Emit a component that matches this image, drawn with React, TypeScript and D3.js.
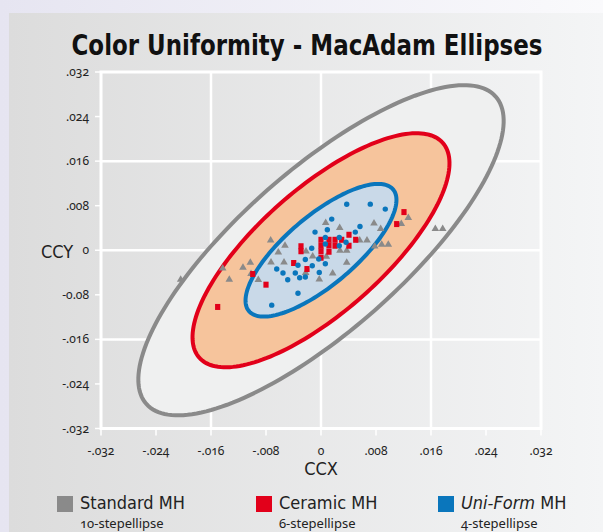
import React from 'react'
import { scaleLinear, line, curveLinearClosed, range } from 'd3'

// axis ticks
const xTicks = [-0.032, -0.024, -0.016, -0.008, 0, 0.008, 0.016, 0.024, 0.032]
const xTickLabels = ['-.032', '-.024', '-.016', '-.008', '0', '.008', '.016', '.024', '.032']
const yTicks = [0.032, 0.024, 0.016, 0.008, 0, -0.008, -0.016, -0.024, -0.032]
const yTickLabels = ['.032', '.024', '.016', '.008', '0', '-0.08', '-.016', '-.024', '-.032']
const gridTicks = [-0.016, 0, 0.016]

// ellipses: centre plus two conjugate semi-diameters, in ccx/ccy units
const ellipseNames = ['Standard MH', 'Ceramic MH', 'Uni-Form MH']
const ellipseMajor = [[0.0254, 0.0276], [0.0177, 0.0193], [0.0105, 0.0109]]
const ellipseMinor = [[0.0078, -0.0108], [0.0060, -0.0083], [0.0032, -0.0048]]

// measured points
const standardX = [0.00068, 0.00272, 0.00771, 0.00868, 0.01168, 0.0127, 0.01663, 0.0177, -0.00732, -0.00621, -0.00524, -0.00218, -0.00121, 0.00077, 0.00276, 0.00374, 0.00563, 0.00669, 0.00781, 0.00883, 0.00979, 0.00374, -0.00727, -0.00538, -0.0143, -0.01135, -0.01028, -0.01334, -0.01018, -0.00912, -0.00223, -0.00025, 0.0017, -0.02041]
const standardY = [0.00506, 0.00416, 0.00498, 0.00398, 0.00488, 0.00595, 0.00398, 0.00398, 0.00194, -0.00022, 0.00099, -0.00004, -0.00093, -0.00099, 0.00009, 0.00009, 0.00194, 0.00194, 0.00086, 0.00117, 0.00117, -0.00206, -0.00201, -0.00201, -0.00308, -0.00296, -0.00206, -0.00511, -0.00409, -0.00516, -0.00391, -0.00506, -0.00398, -0.00511]
const ceramicX = [0.01207, 0.01101, 0, 0, 0, 0.00116, 0.00116, 0.00116, 0.00204, 0.00204, 0.00301, 0.00407, 0.00407, 0.00505, -0.00291, -0.00291, 0, -0.00397, -0.00204, -0.00993, -0.008, -0.01503]
const ceramicY = [0.00685, 0.0047, 0.00188, 0.00081, -0.00018, 0.00188, 0.00086, -0.00027, 0.00188, 0.00081, 0.00188, 0.00278, 0.00081, 0.00188, 0.00072, -0.00018, -0.00134, -0.00229, -0.00337, -0.00427, -0.00618, -0.01018]
const uniformX = [0.00374, 0.00717, 0.00935, 0.00156, 0.00092, -0.00087, 0.00567, 0.00499, 0.00266, 0.00063, 0.00364, 0.00063, 0.00266, -0.00135, -0.00033, -0.00228, 0.00063, -0.00127, -0.00335, -0.00644, -0.00553, -0.00374, -0.00025, -0.0031, -0.00228, -0.00484, -0.00335, -0.00717]
const uniformY = [0.00825, 0.00828, 0.00739, 0.00559, 0.00368, 0.00326, 0.00427, 0.00326, 0.00229, 0.00229, 0.00143, 0.00111, 0.00081, 0.00036, -0.00158, -0.00165, -0.00242, -0.00278, -0.00269, -0.00337, -0.00409, -0.00409, -0.00398, -0.00493, -0.0048, -0.00529, -0.00771, -0.00986]

function App() {
    const width = 603,
        height = 532

    const x = scaleLinear().domain([-0.032, 0.032]).range([101, 541])
    const y = scaleLinear().domain([-0.032, 0.032]).range([428.5, 72])

    const grey = '#8a8a8a', red = '#e2001a', blue = '#0a76bc'
    const fills = ['#eff0f0', '#f6c49c', '#c9d9e8']
    const strokes = [grey, red, blue]

    const ellipsePath = (i: number) => {
        const [ax, ay] = ellipseMajor[i]
        const [bx, by] = ellipseMinor[i]
        const pts = range(0, 2 * Math.PI, Math.PI / 90).map(t =>
            [ax * Math.cos(t) + bx * Math.sin(t), ay * Math.cos(t) + by * Math.sin(t)] as [number, number])
        return line<[number, number]>().x(d => x(d[0])).y(d => y(d[1])).curve(curveLinearClosed)(pts)
    }

    const tickFont = { fontFamily: "'Noto Sans', sans-serif", fontSize: 12, fill: '#222', fontVariantNumeric: 'oldstyle-nums' }
    const condensed = "'Liberation Sans Narrow', 'DejaVu Sans Condensed', 'Roboto', sans-serif"

    const legend = [
        { x: 57, color: grey, sub: '10-stepellipse' },
        { x: 256, color: red, sub: '6-stepellipse' },
        { x: 438, color: blue, sub: '4-stepellipse' },
    ]

    return (
        <svg width={width} height={height} style={{ position: 'absolute', left: 0, top: 0, display: 'block' }}>
            <defs>
                <linearGradient id='panelBg' x1='0' x2='1' y1='0' y2='0'>
                    <stop offset='0' stopColor='#dcdcdc' />
                    <stop offset='1' stopColor='#f4f5f6' />
                </linearGradient>
                <linearGradient id='topBg' x1='0' x2='1' y1='0' y2='0'>
                    <stop offset='0' stopColor='#e6e5f1' />
                    <stop offset='1' stopColor='#fafafc' />
                </linearGradient>
            </defs>
            <rect width={width} height={height} fill='url(#topBg)' />
            <rect x={9} y={13} width={width - 9} height={height - 13} fill='url(#panelBg)' />

            <text x={307} y={55} textAnchor='middle' textLength={471} lengthAdjust='spacingAndGlyphs'
                style={{ fontFamily: condensed, fontWeight: 'bold', fontSize: 28, fill: '#111' }}>
                Color Uniformity - MacAdam Ellipses
            </text>

            {/* grid + frame */}
            {gridTicks.map((d, i) => (
                <g key={i}>
                    <line x1={x(d)} x2={x(d)} y1={y(0.032)} y2={y(-0.032)} stroke='white' strokeWidth={2.5} />
                    <line x1={x(-0.032)} x2={x(0.032)} y1={y(d)} y2={y(d)} stroke='white' strokeWidth={2.5} />
                </g>
            ))}
            <rect x={x(-0.032)} y={y(0.032)} width={x(0.032) - x(-0.032)} height={y(-0.032) - y(0.032)}
                fill='none' stroke='white' strokeWidth={3} />
            {xTicks.map((d, i) => (
                <g key={i}>
                    <line x1={x(d)} x2={x(d)} y1={y(-0.032) + 1} y2={y(-0.032) + 7} stroke='white' strokeWidth={1.5} />
                    <text x={x(d)} y={455} textAnchor='middle' style={tickFont}>{xTickLabels[i]}</text>
                </g>
            ))}
            {yTicks.map((d, i) => (
                <g key={i}>
                    <line x1={x(-0.032) - 6} x2={x(-0.032) - 1} y1={y(d)} y2={y(d)} stroke='white' strokeWidth={1.5} />
                    <text x={89} y={y(d) + 4} textAnchor='end' style={tickFont}>{yTickLabels[i]}</text>
                </g>
            ))}
            <text x={321} y={475} textAnchor='middle' style={{ fontFamily: condensed, fontSize: 18, fill: '#222' }}>CCX</text>
            <text x={57} y={258} textAnchor='middle' style={{ fontFamily: condensed, fontSize: 18, fill: '#222' }}>CCY</text>

            {/* ellipses */}
            {ellipseNames.map((n, i) => (
                <path key={n} d={ellipsePath(i) || ''} fill={fills[i]} stroke={strokes[i]} strokeWidth={4} />
            ))}

            {/* points */}
            {standardX.map((d, i) => {
                const cx = x(d), cy = y(standardY[i])
                return <path key={'s' + i} d={`M${cx},${cy - 3.5}L${cx + 3.8},${cy + 3}L${cx - 3.8},${cy + 3}Z`} fill={grey} />
            })}
            {ceramicX.map((d, i) => (
                <rect key={'c' + i} x={x(d) - 2.6} y={y(ceramicY[i]) - 3} width={5.2} height={6} fill={red} />
            ))}
            {uniformX.map((d, i) => (
                <circle key={'u' + i} cx={x(d)} cy={y(uniformY[i])} r={2.7} fill={blue} />
            ))}

            {/* legend */}
            {legend.map((l, i) => (
                <g key={i}>
                    <rect x={l.x} y={496} width={16} height={16} fill={l.color} />
                    <text x={l.x + 23} y={509} style={{ fontFamily: condensed, fontSize: 18, fill: '#222' }}>
                        {i === 2 ? <><tspan fontStyle='italic'>Uni-Form</tspan> MH</> : ellipseNames[i]}
                    </text>
                    <text x={l.x + 23} y={528} style={{ fontFamily: "'Noto Sans', sans-serif", fontSize: 13, fill: '#222', fontVariantNumeric: 'oldstyle-nums' }}>{l.sub}</text>
                </g>
            ))}
        </svg>
    )
}

export default App
